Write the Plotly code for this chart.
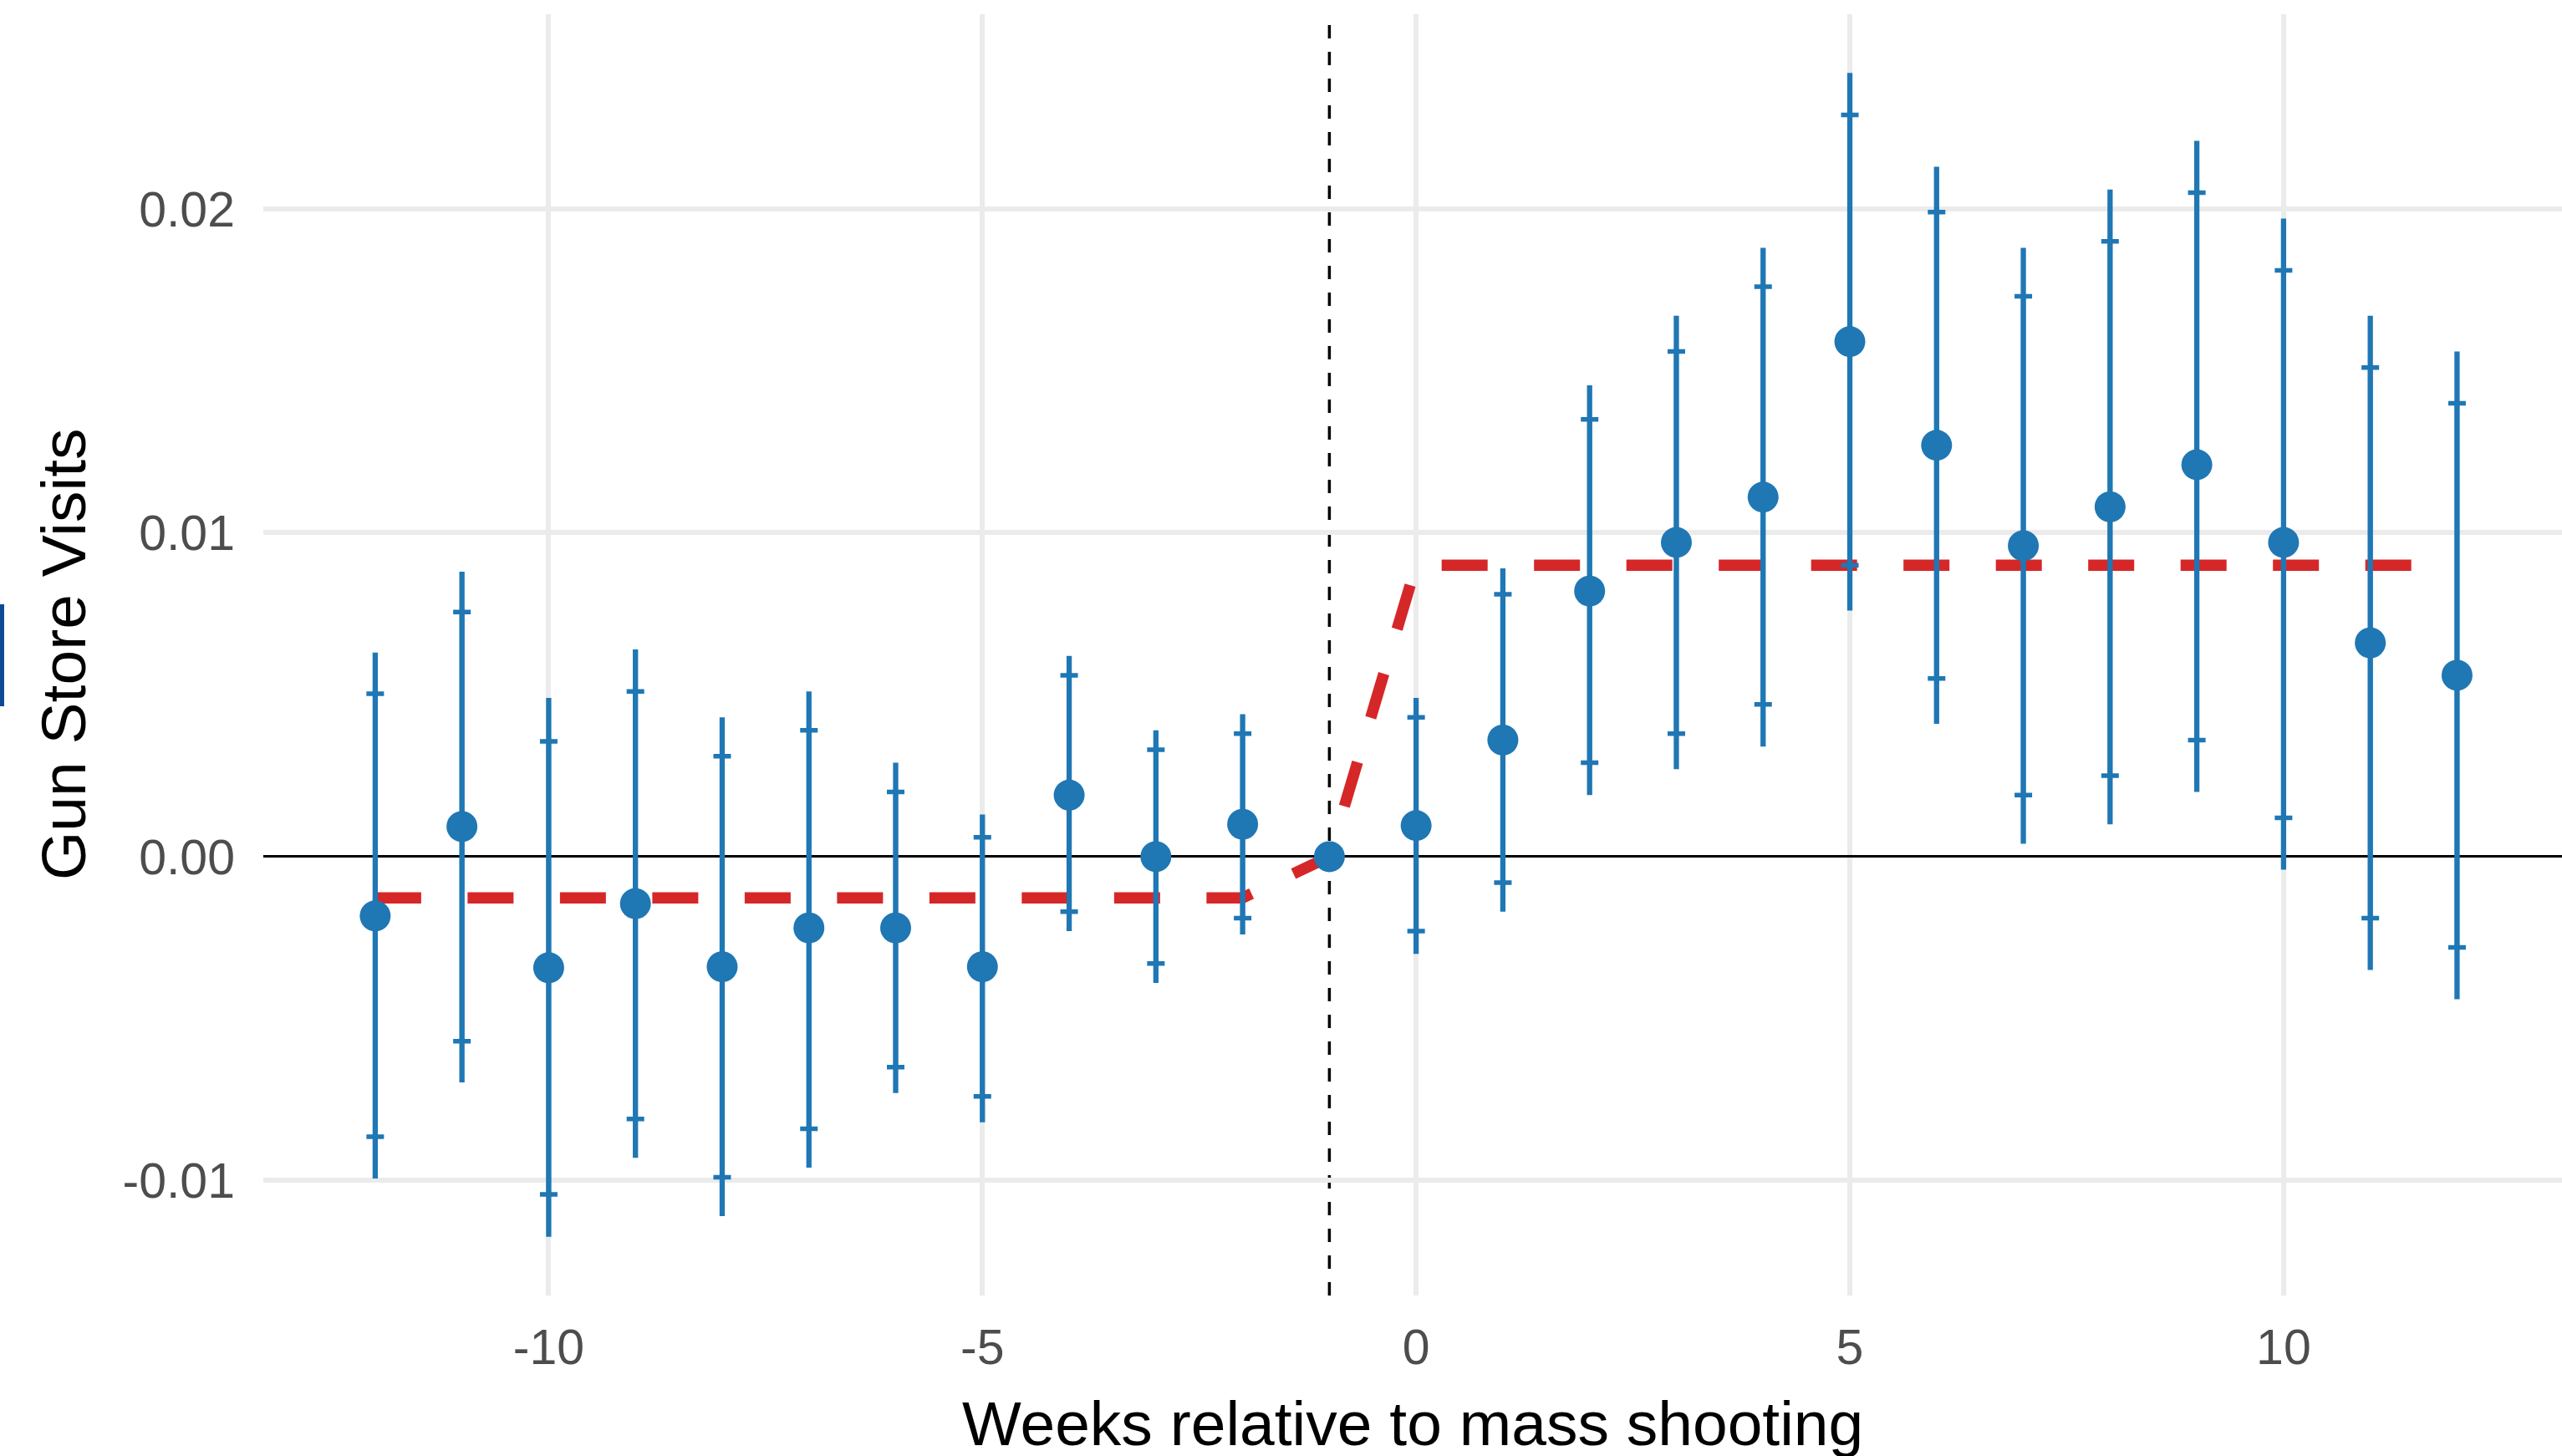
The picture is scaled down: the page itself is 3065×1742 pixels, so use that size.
import plotly.graph_objects as go

# ---- data ----
weeks = [-12, -11, -10, -9, -8, -7, -6, -5, -4, -3, -2, -1,
         0, 1, 2, 3, 4, 5, 6, 7, 8, 9, 10, 11, 12]
coef = [-0.00183, 0.00093, -0.00343, -0.00145, -0.0034, -0.0022, -0.0022, -0.0034,
        0.0019, 0.0000, 0.0010, 0.0,
        0.00096, 0.0036, 0.0082, 0.0097, 0.0111, 0.0159, 0.0127, 0.0096,
        0.0108, 0.0121, 0.0097, 0.0066, 0.0056]
ci_outer_low = [-0.00994, -0.00697, -0.01174, -0.0093, -0.0111, -0.0096, -0.0073, -0.0082,
                -0.0023, -0.0039, -0.0024, None,
                -0.0030, -0.0017, 0.0019, 0.0027, 0.0034, 0.0076, 0.0041, 0.0004,
                0.0010, 0.0020, -0.0004, -0.0035, -0.0044]
ci_outer_high = [0.0063, 0.0088, 0.0049, 0.0064, 0.0043, 0.0051, 0.0029, 0.0013,
                 0.0062, 0.0039, 0.0044, None,
                 0.0049, 0.0089, 0.01455, 0.0167, 0.0188, 0.0242, 0.0213, 0.0188,
                 0.0206, 0.0221, 0.0197, 0.0167, 0.0156]
ci_inner_low = [-0.00865, -0.0057, -0.01043, -0.0081, -0.0099, -0.0084, -0.0065, -0.0074,
                -0.0017, -0.0033, -0.0019, None,
                -0.0023, -0.0008, 0.0029, 0.0038, 0.0047, 0.0090, 0.0055, 0.0019,
                0.0025, 0.0036, 0.0012, -0.0019, -0.0028]
ci_inner_high = [0.00503, 0.00755, 0.00356, 0.0051, 0.0031, 0.0039, 0.0020, 0.0006,
                 0.0056, 0.0033, 0.0038, None,
                 0.0043, 0.0081, 0.0135, 0.0156, 0.0176, 0.0229, 0.0199, 0.0173,
                 0.0190, 0.0205, 0.0181, 0.0151, 0.0140]

fit_x = [-12, -2, -1, 0, 12]
fit_y = [-0.00127, -0.00127, 0.0, 0.0090, 0.0090]

event_week = -1

x_tickvals = [-10, -5, 0, 5, 10]
x_ticktext = ["-10", "-5", "0", "5", "10"]
y_tickvals = [-0.01, 0.0, 0.01, 0.02]
y_ticktext = ["-0.01", "0.00", "0.01", "0.02"]

x_title = "Weeks relative to mass shooting"
y_title = "Gun Store Visits"

BLUE = "#1F77B4"
RED = "#D62728"
FONT = "Liberation Sans, Arial, Helvetica, sans-serif"


def plus(hi, c):
    return [None if h is None else h - v for h, v in zip(hi, c)]


def minus(lo, c):
    return [None if l is None else v - l for l, v in zip(lo, c)]


# page body margin is removed in post_script, so figure px == window px
W, H = 3065, 1742
L, R, T, B = 315, 0, 17, 192
PW, PH = W - L - R, H - T - B


def px_to_paper_x(px):
    return (px - L) / PW


def px_to_paper_y(py):
    return (H - B - py) / PH


fig = go.Figure()

# fitted step line (dashed red)
fig.add_trace(go.Scatter(
    x=fit_x, y=fit_y, mode="lines",
    line=dict(color=RED, width=13.5, dash="55px,55.5px"),
    hoverinfo="skip", showlegend=False,
))

# inner CI with caps
fig.add_trace(go.Scatter(
    x=weeks, y=coef, mode="markers",
    marker=dict(size=1, opacity=0),
    error_y=dict(type="data", symmetric=False,
                 array=plus(ci_inner_high, coef),
                 arrayminus=minus(ci_inner_low, coef),
                 color=BLUE, thickness=5.5, width=10.5),
    hoverinfo="skip", showlegend=False,
))

# outer CI without caps
fig.add_trace(go.Scatter(
    x=weeks, y=coef, mode="markers",
    marker=dict(size=1, opacity=0),
    error_y=dict(type="data", symmetric=False,
                 array=plus(ci_outer_high, coef),
                 arrayminus=minus(ci_outer_low, coef),
                 color=BLUE, thickness=6.3, width=0),
    hoverinfo="skip", showlegend=False,
))

# point estimates
fig.add_trace(go.Scatter(
    x=weeks, y=coef, mode="markers",
    marker=dict(size=37, color=BLUE, line=dict(width=0)),
    hoverinfo="skip", showlegend=False,
))

shapes = [
    dict(type="line", xref="x", yref="paper", x0=event_week, x1=event_week, y0=0, y1=1,
         line=dict(color="black", width=3.5, dash="16px,16px"), layer="between"),
    dict(type="rect", xref="paper", yref="paper",
         x0=px_to_paper_x(0), x1=px_to_paper_x(5),
         y0=px_to_paper_y(845), y1=px_to_paper_y(723),
         fillcolor="#0D4A93", line=dict(width=0), layer="above"),
]

annotations = [
    dict(text=x_title, xref="paper", yref="paper", x=px_to_paper_x(1690),
         y=px_to_paper_y(1703),
         xanchor="center", yanchor="middle", showarrow=False,
         font=dict(family=FONT, size=75, color="black")),
    dict(text=y_title, xref="paper", yref="paper", x=px_to_paper_x(76), y=px_to_paper_y(783),
         xanchor="center", yanchor="middle", showarrow=False, textangle=-90,
         font=dict(family=FONT, size=75, color="black")),
]

fig.update_layout(
    width=W, height=H, autosize=False,
    margin=dict(l=L, r=R, t=T, b=B, pad=0),
    paper_bgcolor="white", plot_bgcolor="white",
    showlegend=False, hovermode=False,
    shapes=shapes, annotations=annotations,
    xaxis=dict(range=[-13.29, 13.21], tickvals=x_tickvals, ticktext=x_ticktext,
               showgrid=True, gridcolor="#EBEBEB", gridwidth=6,
               zeroline=False, showline=False, ticks="",
               ticklabelstandoff=22, automargin=False,
               tickfont=dict(family=FONT, size=59, color="#4D4D4D")),
    yaxis=dict(range=[-0.01355, 0.02601], tickvals=y_tickvals, ticktext=y_ticktext,
               showgrid=True, gridcolor="#EBEBEB", gridwidth=6,
               zeroline=True, zerolinecolor="black", zerolinewidth=3,
               showline=False, ticks="",
               ticklabelstandoff=33, automargin=False,
               tickfont=dict(family=FONT, size=59, color="#4D4D4D")),
)

fig.write_html(
    "out.html",
    config={"displayModeBar": False, "staticPlot": True},
    post_script="document.body.style.margin='0';document.body.style.overflow='hidden';",
)
